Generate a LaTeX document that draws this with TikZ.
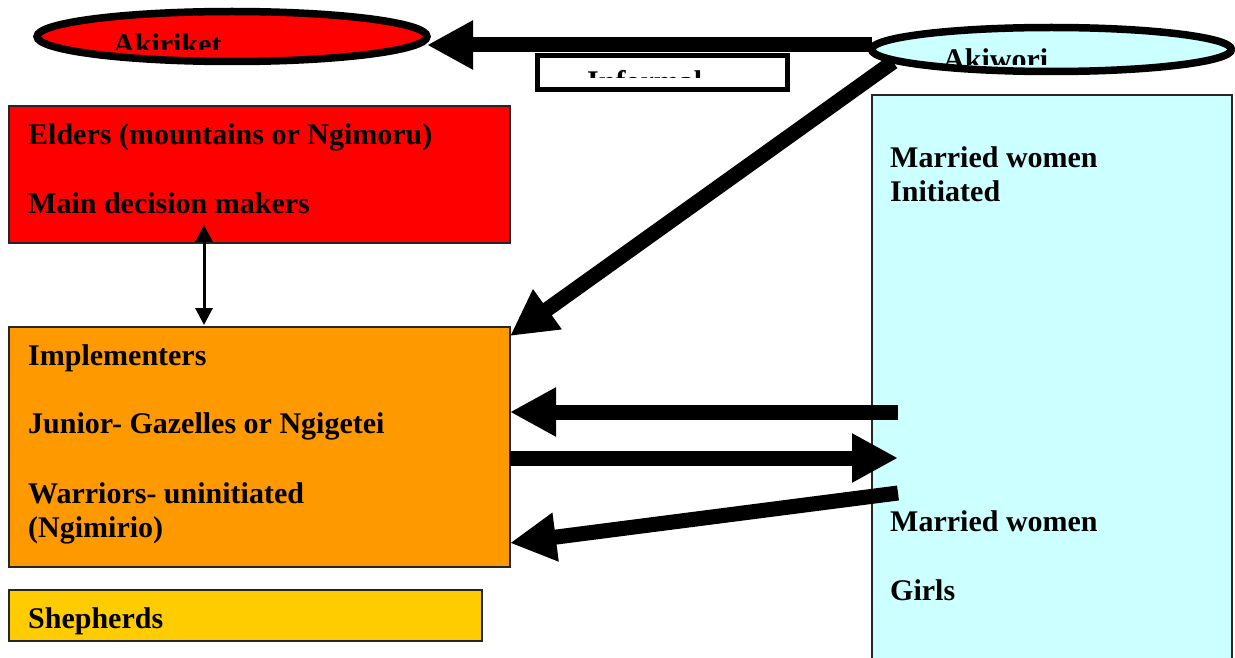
\documentclass[tikz,border=0pt]{standalone}
\usepackage{fontspec}
\setmainfont{Liberation Serif}
\usetikzlibrary{arrows.meta,shapes.geometric}
\definecolor{palecyan}{HTML}{CCFFFF}
\definecolor{implorange}{HTML}{FF9900}
\definecolor{shepyellow}{HTML}{FFCC00}

\begin{document}
\begin{tikzpicture}[x=1pt,y=-1pt,
  my box/.style={draw=black!85,line width=1.5pt,inner sep=0pt,outer sep=0pt,anchor=north west},
  my oval/.style={ellipse,draw=black,line width=7.5pt,inner sep=0pt,outer sep=0pt},
  my label/.style={anchor=base west,inner sep=0pt,align=left,
    font=\bfseries\fontsize{30}{34}\selectfont},
  big arrow/.style={line width=15pt,-{Triangle[length=46pt,width=46pt]}},
  small arrow/.style={line width=3pt,
    {Triangle[length=17pt,width=17pt]}-{Triangle[length=17pt,width=17pt]}}]
  \clip (0,0) rectangle (1235,658);
  \fill[white] (0,0) rectangle (1235,658);

  \node[my box,fill=red,minimum width=501pt,minimum height=137pt] (elders) at (9,106) {};
  \node[my box,fill=implorange,minimum width=501pt,minimum height=240pt] (impl) at (9,327) {};
  \node[my box,fill=shepyellow,minimum width=473pt,minimum height=51pt] (shep) at (9,590) {};
  \node[my box,fill=palecyan,minimum width=360pt,minimum height=600pt] (women) at (872,95) {};
  \node[my box,draw=black,line width=5pt,fill=white,minimum width=250pt,minimum height=34pt] (informal) at (537.5,55.5) {};

  \node[my label] (eldersA) at (28,145) {Elders (mountains or Ngimoru)};
  \node[my label] (eldersB) at (28,213) {Main decision makers};
  \node[my label] (implA) at (28,365) {Implementers};
  \node[my label] (implB) at (28,433) {Junior- Gazelles or Ngigetei};
  \node[my label] (implC) at (28,537) {Warriors- uninitiated\\(Ngimirio)};
  \node[my label] (shepA) at (28,628) {Shepherds};
  \node[my label] (womenA) at (890,201) {Married women\\Initiated};
  \node[my label] (womenB) at (890,531) {Married women};
  \node[my label] (womenC) at (890,600) {Girls};

  \coordinate (kw foot) at (893,62);
  \coordinate (w1) at (898,412);
  \coordinate (w2) at (898,458);
  \coordinate (w3) at (898,493);
  \coordinate (da top) at (204,225);
  \coordinate (da bot) at (204,325);

  \draw[small arrow] (da top) -- (da bot);
  \draw[big arrow] (w1) -- (impl.east |- w1);
  \draw[big arrow] (impl.east |- w2) -- (w2);
  \draw[big arrow] (w3) -- ([yshift=24pt]impl.south east);
  \draw[big arrow] (kw foot) -- ([yshift=-9pt]impl.north east);

  \node[my oval,fill=red,minimum width=390pt,minimum height=50pt] (akiriket) at (232,36.5) {};
  \node[my oval,fill=palecyan,minimum width=360pt,minimum height=44pt] (akiwori) at (1051.5,49.5) {};
  \draw[big arrow] ([yshift=4.5pt]akiwori.west) -- ([yshift=-8.5pt]akiriket.east);

  \begin{scope}
    \clip (100,20) rectangle (420,50);
    \node[my label] (akiriketT) at (113,55) {Akiriket};
  \end{scope}
  \begin{scope}
    \clip (900,35) rectangle (1200,65);
    \node[my label] (akiworiT) at (943,70) {Akiwori};
  \end{scope}
  \begin{scope}
    \clip (541,59) rectangle (785,78);
    \node[my label] (informalT) at (587,92) {Informal};
  \end{scope}
\end{tikzpicture}
\end{document}
